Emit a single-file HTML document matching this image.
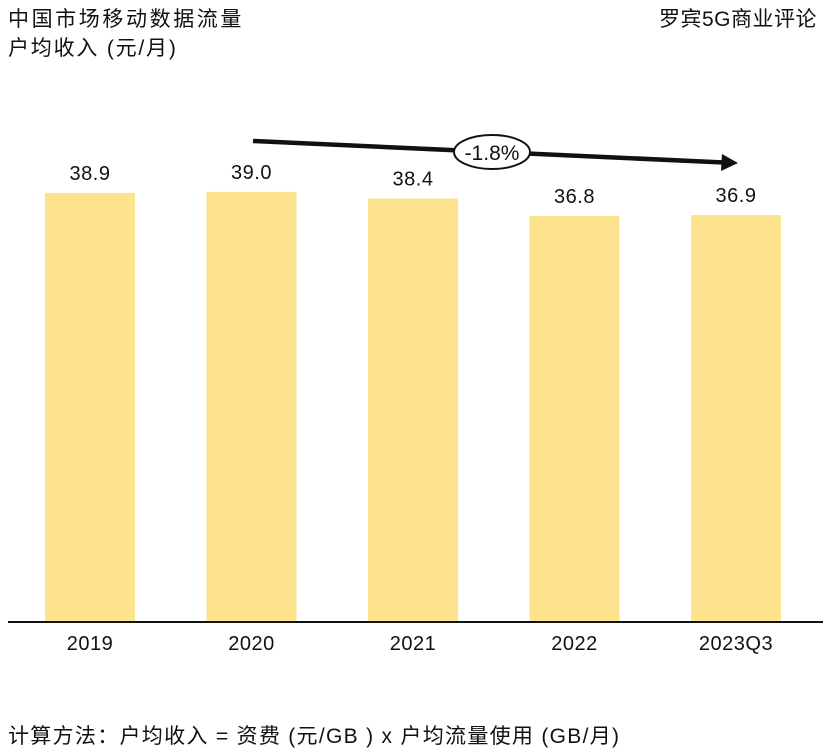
<!DOCTYPE html>
<html><head><meta charset="utf-8"><style>
body{margin:0;background:#fff;}
svg{display:block;font-family:"Liberation Sans","Noto Sans CJK SC",sans-serif;}
</style></head><body>
<svg id="c" width="823" height="751">
<text x="8" y="26" font-size="21" letter-spacing="2.6" fill="#111">中国市场移动数据流量</text>
<text x="8" y="55" font-size="21" letter-spacing="1.8" fill="#111">户均收入 (元/月)</text>
<text x="817" y="26" font-size="21" letter-spacing="0.5" fill="#111" text-anchor="end">罗宾5G商业评论</text>
<g id="bars"></g>
<line x1="8" y1="622" x2="823" y2="622" stroke="#111" stroke-width="2"/>
<line x1="253" y1="141" x2="724" y2="162.5" stroke="#111" stroke-width="4.5"/>
<polygon points="738,163 722,154 721,171" fill="#111"/>
<ellipse cx="492" cy="152" rx="38" ry="17" fill="#fff" stroke="#111" stroke-width="2"/>
<text x="492" y="160" font-size="21" text-anchor="middle" fill="#111">-1.8%</text>
<text x="8" y="743" font-size="21" letter-spacing="1.3" fill="#111">计算方法：户均收入 = 资费 (元/GB ) x 户均流量使用 (GB/月)</text>
</svg>
<script>
const categories=["2019","2020","2021","2022","2023Q3"];
const values=[38.9,39.0,38.4,36.8,36.9];
const labels=["38.9","39.0","38.4","36.8","36.9"];
const base=622, scale=11.03, x0=45, step=161.5, bw=90;
const y=v=>base-v*scale;
const x=i=>x0+i*step;
const g=document.getElementById('bars');
const ns="http://www.w3.org/2000/svg";
categories.forEach((c,i)=>{
 const r=document.createElementNS(ns,'rect');
 r.setAttribute('x',x(i));r.setAttribute('y',y(values[i]));
 r.setAttribute('width',bw);r.setAttribute('height',base-y(values[i]));
 r.setAttribute('fill','#fde38e');
 
 
 g.appendChild(r);
 const t=document.createElementNS(ns,'text');
 t.setAttribute('x',x(i)+bw/2);t.setAttribute('y',y(values[i])-13);
 t.setAttribute('text-anchor','middle');t.setAttribute('font-size','20');t.setAttribute('fill','#111');
 t.setAttribute('letter-spacing','0.5');
 t.textContent=labels[i];
 
 
 g.appendChild(t);
 const a=document.createElementNS(ns,'text');
 a.setAttribute('x',x(i)+bw/2);a.setAttribute('y',650);
 a.setAttribute('text-anchor','middle');a.setAttribute('font-size','20');a.setAttribute('fill','#111');
 a.setAttribute('letter-spacing','0.5');
 a.textContent=c;
 
 
 g.appendChild(a);
});
</script>
</body></html>
